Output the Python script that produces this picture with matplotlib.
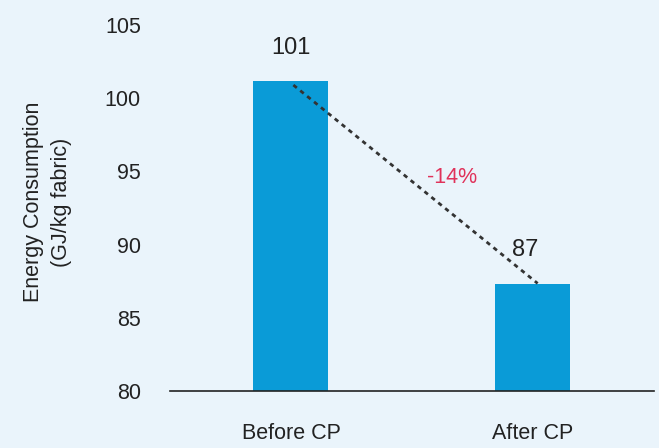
import matplotlib.pyplot as plt

# data
categories = ["Before CP", "After CP"]
values = [101.2, 87.3]
labels = ["101", "87"]
change_label = "-14%"

plt.rcParams['font.family'] = ['Liberation Sans Narrow', 'Liberation Sans', 'DejaVu Sans']

bg = "#eaf4fb"
fig = plt.figure(figsize=(6.59, 4.48), dpi=100, facecolor=bg)
ax = fig.add_axes([0.258, 0.1272, 0.734, 0.817], facecolor=bg)

x = range(len(categories))
ax.bar(x, values, width=0.31, color="#0a9bd7", zorder=2)

# value labels
ax.text(0, 103.4, labels[0], ha="center", va="center", fontsize=17, color="#222222")
ax.text(0.97, 89.6, labels[1], ha="center", va="center", fontsize=17, color="#222222")

# dashed trend line
ax.plot([0.01, 1.02], [values[0] - 0.3, values[1] + 0.05], ls=(0, (1.6, 1.6)), lw=2,
        color="#333333", zorder=3)
ax.text(0.665, 94.55, change_label, ha="center", va="center", fontsize=15.5, color="#e0325a")

ax.set_xlim(-0.5, 1.5)
ax.set_ylim(80, 105)
ax.set_yticks([80, 85, 90, 95, 100, 105])
ax.set_xticks(list(x))
ax.set_xticklabels(categories)
ax.tick_params(axis="both", length=0, labelsize=15.5, colors="#222222")
ax.tick_params(axis="y", pad=21)
ax.tick_params(axis="x", pad=23)

for s in ["left", "right", "top"]:
    ax.spines[s].set_visible(False)
ax.spines["bottom"].set_color("#222222")
ax.spines["bottom"].set_linewidth(1.2)

ax.set_ylabel("Energy Consumption\n(GJ/kg fabric)", fontsize=15.5, color="#222222",
              linespacing=1.45)
ax.yaxis.set_label_coords(-0.2025, 0.516)

fig.savefig("out.png", dpi=100, facecolor=bg)
